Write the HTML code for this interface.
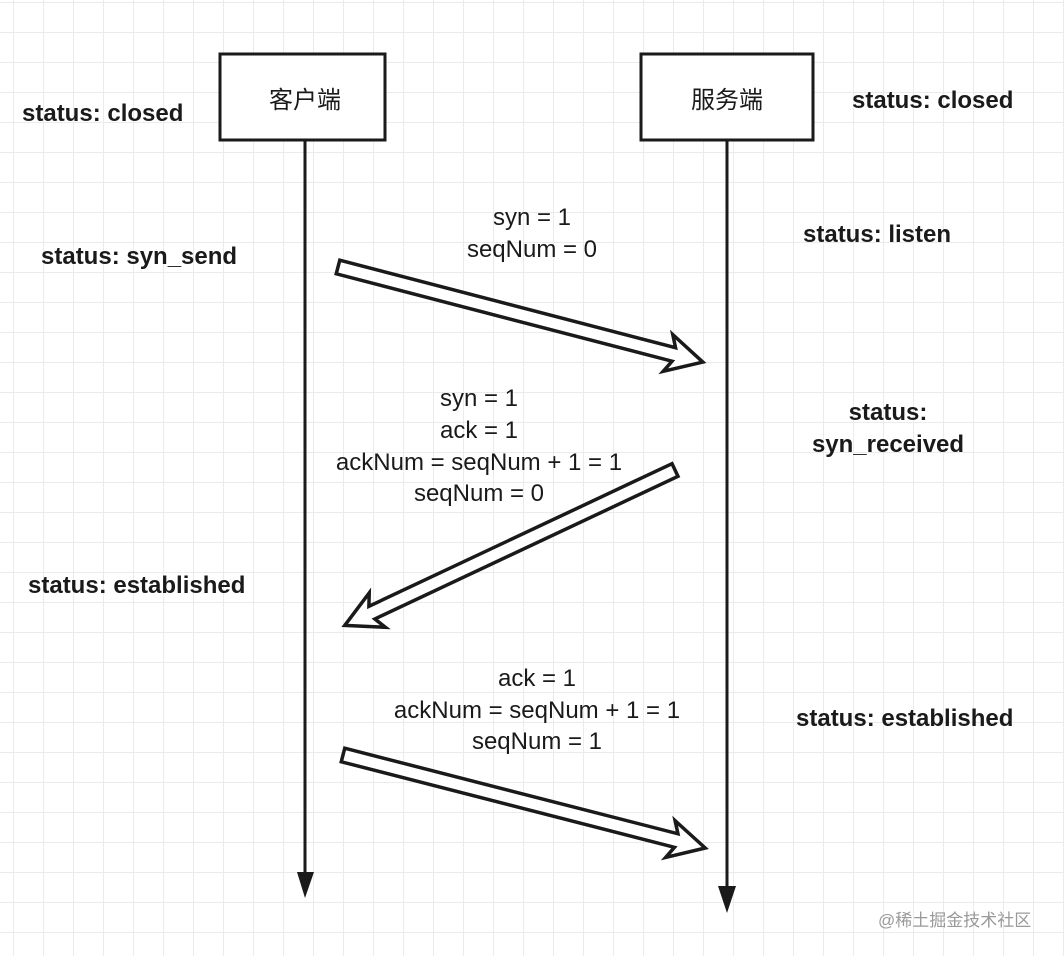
<!DOCTYPE html>
<html><head><meta charset="utf-8"><style>
html,body{margin:0;padding:0;background:#fff;}
svg{display:block;}
text{font-family:"Liberation Sans","Noto Sans CJK SC",sans-serif;fill:#1a1a1a;}
</style></head><body>
<svg width="1064" height="956" viewBox="0 0 1064 956" xmlns="http://www.w3.org/2000/svg">
<defs>
<pattern id="g" x="13" y="2" width="30" height="30" patternUnits="userSpaceOnUse">
<path d="M0 0V30M0 0H30" stroke="#ebebeb" stroke-width="2" fill="none"/>
</pattern>
</defs>
<rect width="1064" height="956" fill="#fff"/>
<rect width="1064" height="956" fill="url(#g)"/>

<rect x="220" y="54" width="165" height="86" fill="#fff" stroke="#1a1a1a" stroke-width="3"/>
<rect x="641" y="54" width="172" height="86" fill="#fff" stroke="#1a1a1a" stroke-width="3"/>
<text x="305" y="108" font-size="24" text-anchor="middle">客户端</text>
<text x="727" y="108" font-size="24" text-anchor="middle">服务端</text>

<line x1="305" y1="140" x2="305" y2="875" stroke="#1a1a1a" stroke-width="3"/>
<polygon points="297,872 314,872 305,898" fill="#1a1a1a"/>
<line x1="727" y1="140" x2="727" y2="890" stroke="#1a1a1a" stroke-width="3"/>
<polygon points="718,886 736,886 727,913" fill="#1a1a1a"/>

<g fill="#fff" stroke="#1a1a1a" stroke-width="3.5" stroke-linejoin="miter">
<polygon transform="translate(338,267) rotate(14.6)" points="0,-7 347,-7 341,-19 377,0 341,19 347,7 0,7"/>
<polygon transform="translate(675,470) rotate(154.8)" points="0,-7 335,-7 329,-19 365,0 329,19 335,7 0,7"/>
<polygon transform="translate(343,755) rotate(14.4)" points="0,-7 344,-7 338,-19 374,0 338,19 344,7 0,7"/>
</g>

<g font-size="24" font-weight="bold">
<text x="22" y="121">status: closed</text>
<text x="852" y="108">status: closed</text>
<text x="41" y="264">status: syn_send</text>
<text x="803" y="242">status: listen</text>
<text x="888" y="420" text-anchor="middle">status:</text>
<text x="888" y="452" text-anchor="middle">syn_received</text>
<text x="28" y="593">status: established</text>
<text x="796" y="726">status: established</text>
</g>

<g font-size="24" text-anchor="middle">
<text x="532" y="225">syn = 1</text>
<text x="532" y="257">seqNum = 0</text>
<text x="479" y="406">syn = 1</text>
<text x="479" y="438">ack = 1</text>
<text x="479" y="470">ackNum = seqNum + 1 = 1</text>
<text x="479" y="501">seqNum = 0</text>
<text x="537" y="686">ack = 1</text>
<text x="537" y="718">ackNum = seqNum + 1 = 1</text>
<text x="537" y="749">seqNum = 1</text>
</g>

<text x="878" y="926" font-size="17" fill="#999" style="fill:#9a9a9a">@稀土掘金技术社区</text>
</svg>
</body></html>
